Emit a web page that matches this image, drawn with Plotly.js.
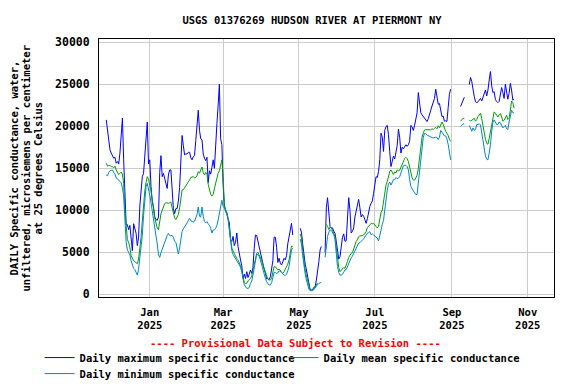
<!DOCTYPE html>
<html>
<head>
<meta charset="utf-8">
<script src="https://cdn.plot.ly/plotly-3.0.1.min.js"></script>
<style>html,body{margin:0;padding:0;background:#fff;}#chart{width:576px;height:384px;}</style>
</head>
<body>
<div id="chart"></div>
<script>
// Daily values starting 2024-11-27, one value per day (null = no data)
var startDate = '2024-11-27';

var dailyMax = [
20750,19500,17900,17200,16800,16550,16200,16300,15600,15800,
15500,16800,18500,20950,16000,11500,8300,8300,7700,8200,
6800,5200,8400,7800,7260,5800,6800,10500,13000,14000,
14400,16500,18000,20500,15500,16000,12800,11000,10400,9200,
8900,8800,9200,14500,16500,14000,14400,13800,13300,12600,
14200,14800,14800,12700,10200,9600,10200,10200,11100,12700,
16000,18900,17700,16600,16700,16700,16900,16900,
16250,16000,16350,16500,18300,19800,21900,19500,18500,18400,
16700,16200,15900,16300,13300,14700,14300,15100,16000,15000,
18300,20300,22500,25000,18500,17800,13000,10500,10000,9640,
9000,8500,6470,6300,6900,5800,6200,7300,5700,4600,
4090,3400,1900,2400,1900,2700,2000,2400,2900,2500,
3200,5500,7060,7000,6300,5400,4880,4000,3500,3000,
2500,1850,1900,1750,2100,2900,4000,6800,6800,5600,
3800,4300,
3700,3500,3900,4290,4100,4600,6000,6870,7300,8450,
7060,null,null,null,null,null,7860,7400,6000,4600,
3600,2900,2200,1200,520,520,560,850,910,1700,
2600,3900,5280,5700,null,null,5000,10300,11500,9800,
8060,7900,7900,7500,7260,6300,5100,4200,4490,5500,
6800,7200,6300,6400,8500,11500,10000,7300,7500,7900,
9200,9850,10500,11300,10300,9200,9500,9300,8900,8450,
9000,10000,10450,
10830,11100,12000,12800,14000,13900,14600,16000,19170,18700,
17000,19500,19960,20100,19000,17000,15200,15800,16450,16100,
16790,17700,19650,18700,16800,17500,17300,17600,17800,17600,
17800,18200,20100,19900,19500,20100,21100,21600,24000,22700,
21600,21350,21150,20900,20750,20550,20900,21600,21900,22400,
22800,23300,24400,23200,22600,22700,21600,21150,21200,20600,
20650,20560,22200,23800,24400,
null,null,null,null,null,null,null,
22340,22700,23150,23450,null,null,null,24950,25800,25300,
24200,23500,22900,22800,22900,23100,23300,23000,23400,23900,
24300,23600,24300,25500,26500,24800,24000,24100,23150,22950,
22800,22950,23800,24600,24000,23300,25000,24200,23200,23900,
25100,24300,23100,23200
];

var dailyMean = [
15600,15250,15350,15350,15200,15200,15050,15250,14800,14400,
14250,14400,14550,14300,13200,10000,7600,6500,6200,5600,
4600,4200,4000,3890,3700,3650,4200,5200,6800,8700,
10900,12300,13300,14000,13700,13100,12300,11300,10100,9100,
8500,7900,7700,8800,9600,10000,10500,10800,10900,10830,
10830,10900,11000,10300,9700,9100,8900,9200,9500,10300,
11700,12400,12450,12650,12900,13100,13350,13600,
13900,13950,14010,13850,13900,14100,14600,14400,14900,15150,
14500,14200,14500,14300,13100,12300,11900,11700,11900,12600,
13200,14000,14400,14700,15300,16000,14000,10600,10050,9750,
9000,7800,6300,5500,5150,4850,4450,4250,4100,3800,
3400,2800,1900,1450,1310,1310,1600,1710,1900,2200,
2900,3700,4400,4880,5000,4700,4450,4050,3500,3000,
2500,2000,1800,1710,1710,1950,2600,3300,3300,3100,
2900,3000,
2900,2600,2500,2700,2950,3200,3600,4100,4900,5750,
5700,null,null,null,null,null,7200,6700,5200,3900,
2900,2200,1500,800,520,440,500,700,910,1150,
1350,null,null,null,null,null,8260,8300,8100,7700,
8000,7900,7600,7250,6900,5600,4100,3200,2700,2900,
2950,3200,3100,3400,3900,4400,4680,4880,4950,5500,
5900,6300,6500,6870,6950,6950,7000,7060,7250,7450,
7950,8060,8260,
8450,8400,8450,8260,8100,7900,8100,8900,9750,10040,
11000,12500,13000,13400,14050,14610,14800,14450,14250,14550,
14450,14800,14700,14750,15100,15450,15900,16150,16300,16150,
15800,15000,14300,13850,13600,13580,13850,14150,15000,16200,
17600,18700,19200,19550,19600,19580,19600,19500,19560,19700,
19600,19760,19850,19700,20050,19800,20200,20500,20200,19750,
19400,19150,18900,18450,18180,
null,null,null,null,null,null,null,
20600,20750,20950,20900,null,null,null,20750,20600,20700,
20800,20950,20600,20800,21150,21450,21550,20900,20000,19100,
18450,17950,17850,18550,19350,20500,21200,21700,21550,21250,
21100,21350,21500,21100,20600,20700,20950,21300,20800,20950,
21900,23000,22800,22150
];

var dailyMin = [
14210,14100,14500,14700,14750,14800,14500,14300,13850,13750,
13600,13450,13250,12700,11700,8500,6200,5300,5000,4700,
4000,3400,3100,2950,2500,2300,3000,4200,5600,7000,
9400,11500,12800,13200,12600,11800,10900,10000,9000,7900,
7000,6000,4700,4400,4950,5400,5900,6350,6600,7000,
7250,7000,6950,7000,6800,6300,6200,5300,4800,5500,
6900,7500,7800,8000,8300,8500,8800,9050,
8750,8650,8600,8700,9250,9500,10400,9300,9200,10400,
9300,8650,8500,8650,8400,8200,7850,7300,7660,7660,
7860,8200,8850,9600,10300,11200,10440,10300,9840,9500,
8900,7700,5900,5200,4750,4500,4250,4050,3750,3600,
3250,2700,1600,1150,900,720,720,800,1300,1600,
2300,3300,4200,4800,4700,4500,4090,3500,2900,2300,
1900,1500,1250,1110,1110,1400,2000,2600,2600,2500,
2550,2800,
2750,2600,2350,2300,2250,2400,2800,3300,4300,5300,
5500,null,null,null,null,null,6600,6000,4600,3200,
2450,1700,1050,620,440,440,480,600,720,1000,
1180,1300,1390,1390,null,null,4400,5900,6900,7400,
7660,7600,7400,7100,6500,4500,3300,2600,2300,2300,
2400,2650,2900,2950,3300,3800,4150,4350,4550,4850,
5250,5600,5900,6080,6150,6250,6450,6600,6800,7100,
7300,7340,7450,
7100,7200,7060,6900,6870,6700,6350,7000,8000,8300,
8800,10200,11600,12400,13100,13350,13000,13250,13650,13650,
13900,13750,13810,14000,14500,15000,15300,15350,15350,15200,
14800,13700,12850,12550,12300,12050,11850,11900,13200,14800,
16500,17900,18700,19150,19100,18950,18850,18750,18700,18650,
18600,18650,18700,18650,18400,18700,19500,19300,19000,18850,
18850,18500,17850,17100,16000,
null,null,null,null,null,null,null,
20000,20150,20280,20250,null,null,null,20100,19800,19400,
19800,19500,19600,20200,20200,20300,20150,19200,18000,17100,
16450,16070,16000,16800,17800,19400,20450,20750,20550,20200,
20200,20500,20400,20100,19800,19950,20100,19700,19600,20500,
21350,21900,21600,21550
];

var xTickVals = ['2025-01-01','2025-03-01','2025-05-01','2025-07-01','2025-09-01','2025-11-01'];
var xTickText = ['Jan<br>2025','Mar<br>2025','May<br>2025','Jul<br>2025','Sep<br>2025','Nov<br>2025'];
var yTickVals = [0,5000,10000,15000,20000,25000,30000];
var yTickText = ['0','5000','10000','15000','20000','25000','30000'];
var yTitleLines = ['DAILY Specific conductance, water,', 'unfiltered, microsiemens per centimeter', 'at 25 degrees Celsius'];

var seriesNames = ['Daily maximum specific conductance','Daily mean specific conductance','Daily minimum specific conductance'];
var seriesColors = ['#0000ff','#00a000','#0088cc'];
var seriesLegends = ['legend','legend','legend2'];

function makeDates(start, n) {
  var p = start.split('-');
  var t0 = Date.UTC(+p[0], +p[1]-1, +p[2]);
  var out = [];
  for (var i = 0; i < n; i++) {
    var d = new Date(t0 + i*86400000);
    out.push(d.toISOString().slice(0,10));
  }
  return out;
}
var dates = makeDates(startDate, dailyMax.length);

var FONT = 'DejaVu Sans Mono, Liberation Mono, monospace';
var series = [dailyMax, dailyMean, dailyMin];
var traces = series.map(function(vals, i){
  return {
    x: dates, y: vals, type: 'scatter', mode: 'lines',
    name: seriesNames[i],
    legend: seriesLegends[i],
    line: {color: seriesColors[i], width: 1},
    connectgaps: false,
    hoverinfo: 'x+y'
  };
});

var legendFont = {family: FONT, size: 10.5, color: '#000', weight: 'bold'};
var yTitleX = [13, 25, 37];

var annotations = yTitleLines.map(function(t, i){
  return {
    text: t, xref: 'paper', yref: 'paper',
    x: (yTitleX[i]-98.5)/455.5, y: 0.5, xanchor: 'center', yanchor: 'middle',
    textangle: -90, showarrow: false,
    font: {family: FONT, size: 10.5, color: '#000', weight: 'bold'}
  };
});
annotations.push({
  text: '---- Provisional Data Subject to Revision ----',
  xref: 'paper', yref: 'paper',
  x: (295-98.5)/455.5, y: (297-343)/257.7, xanchor: 'center', yanchor: 'middle',
  showarrow: false,
  font: {family: FONT, size: 10.5, color: '#ff0000', weight: 'bold'}
});

var layout = {
  width: 576, height: 384,
  margin: {l: 99, r: 22, t: 39, b: 87, autoexpand: false},
  paper_bgcolor: '#ffffff', plot_bgcolor: '#ffffff',
  font: {family: FONT, size: 10.5, color: '#000', weight: 'bold'},
  title: {
    text: 'USGS 01376269 HUDSON RIVER AT PIERMONT NY',
    x: 312/576, xref: 'container', xanchor: 'center',
    y: 1 - 20/384, yref: 'container', yanchor: 'middle',
    font: {family: FONT, size: 10.5, color: '#000', weight: 'bold'}
  },
  xaxis: {
    type: 'date',
    range: ['2024-11-21 04:00', '2025-11-22 03:00'],
    tickvals: xTickVals, ticktext: xTickText,
    tickfont: {family: FONT, size: 10.5, color: '#000', weight: 'bold'},
    showgrid: true, gridcolor: '#cccccc', gridwidth: 1,
    showline: true, linecolor: '#000', linewidth: 1, mirror: true,
    ticks: '', ticklabelstandoff: 5, zeroline: false, automargin: false
  },
  yaxis: {
    range: [-310, 30370],
    tickvals: yTickVals, ticktext: yTickText,
    tickfont: {family: FONT, size: 11.5, color: '#000', weight: 'bold'},
    showgrid: true, gridcolor: '#cccccc', gridwidth: 1,
    showline: true, linecolor: '#000', linewidth: 1, mirror: true,
    ticks: '', ticklabelstandoff: 6, zeroline: false, automargin: false
  },
  showlegend: true,
  legend: {
    orientation: 'h',
    x: (39-98.5)/455.5, xanchor: 'left',
    y: (297-343)/257.7, yanchor: 'top',
    entrywidth: 199, entrywidthmode: 'pixels',
    font: legendFont,
    bgcolor: 'rgba(0,0,0,0)', borderwidth: 0, tracegroupgap: 0
  },
  legend2: {
    orientation: 'h',
    x: (39-98.5)/455.5, xanchor: 'left',
    y: (297-359)/257.7, yanchor: 'top',
    font: legendFont,
    bgcolor: 'rgba(0,0,0,0)', borderwidth: 0, tracegroupgap: 0
  },
  annotations: annotations
};

Plotly.newPlot('chart', traces, layout, {displayModeBar: false, staticPlot: true});
</script>
</body>
</html>
